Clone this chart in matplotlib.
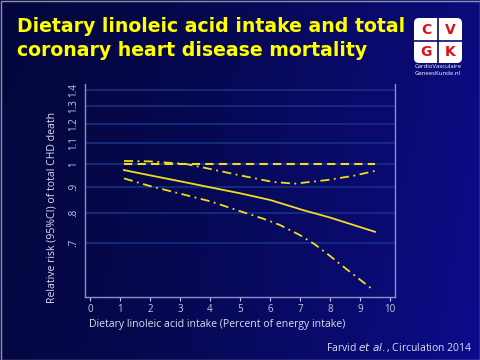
import numpy as np
import matplotlib
matplotlib.use("Agg")
import matplotlib.pyplot as plt
from matplotlib.patches import FancyBboxPatch, Rectangle
from matplotlib.ticker import FixedLocator, NullLocator

# ---- data ----
x_est = [1.13, 2.0, 3.0, 4.0, 5.0, 6.0, 7.1, 8.0, 9.5]
rr_est = [0.973, 0.950, 0.925, 0.900, 0.876, 0.850, 0.812, 0.785, 0.736]
x_low = [1.13, 2.0, 2.89, 4.0, 5.0, 5.8, 6.33, 7.0, 7.5, 8.0, 8.56, 9.44]
rr_low = [0.937, 0.905, 0.878, 0.845, 0.808, 0.780, 0.759, 0.725, 0.695, 0.660, 0.621, 0.566]
x_up = [1.13, 2.0, 2.6, 3.2, 4.0, 5.0, 6.1, 6.83, 7.9, 8.78, 9.5]
rr_up = [1.014, 1.012, 1.006, 1.0, 0.978, 0.950, 0.922, 0.915, 0.930, 0.948, 0.969]
x_ref = [1.13, 9.5]
rr_ref = [1.0, 1.0]

yticks = [0.7, 0.8, 0.9, 1.0, 1.1, 1.2, 1.3, 1.4]
ytick_labels = [".7", ".8", ".9", "1", "1.1", "1.2", "1.3", "1.4"]
xticks = list(range(0, 11))

title = "Dietary linoleic acid intake and total\ncoronary heart disease mortality"
xlabel = "Dietary linoleic acid intake (Percent of energy intake)"
ylabel = "Relative risk (95%CI) of total CHD death"

W, H = 480, 360
fig = plt.figure(figsize=(W / 100, H / 100), dpi=100)

# ---- background ----
bg = fig.add_axes([0, 0, 1, 1], zorder=-10)
gx = np.linspace(0, 1, 200)
gy = np.linspace(0, 1, 150)
GX, GY = np.meshgrid(gx, gy)
c_left = np.array([0.02, 0.03, 0.27])
c_right = np.array([0.05, 0.05, 0.55])
t = (GX ** 1.5)[..., None]
img = c_left * (1 - t) + c_right * t
img = img * (0.9 + 0.1 * GY[..., None])
bg.imshow(img, extent=[0, W, H, 0], aspect="auto", interpolation="bilinear")
bg.set_xlim(0, W)
bg.set_ylim(H, 0)
bg.axis("off")

# ---- main axes ----
ax = fig.add_axes([85 / W, (H - 297) / H, (395 - 85) / W, (297 - 84) / H])
ax.patch.set_alpha(0)
ax.set_yscale("log")
ax.set_xlim(-0.17, 10.17)
ax.set_ylim(0.548, 1.436)

for yv in yticks:
    ax.axhline(yv, color="#182f84", lw=1.2, zorder=1)

yellow = "#f0de1c"
ax.plot(x_est, rr_est, color=yellow, lw=1.3, zorder=3)
ax.plot(x_low, rr_low, color=yellow, lw=1.3, ls=(0, (5, 2.5, 1, 2.5)), zorder=3)
ax.plot(x_up, rr_up, color=yellow, lw=1.3, ls=(0, (5, 2.5, 1, 2.5)), zorder=3)
ax.plot(x_ref, rr_ref, color=yellow, lw=1.5, ls=(0, (4, 2.5)), zorder=3)

ax.yaxis.set_major_locator(FixedLocator(yticks))
ax.yaxis.set_minor_locator(NullLocator())
ax.set_yticklabels(ytick_labels, rotation=90, va="center")
ax.set_xticks(xticks)
tick_col = "#c8c8e4"
ax.tick_params(axis="x", colors=tick_col, labelsize=7, length=3, width=0.8, pad=2)
ax.tick_params(axis="y", colors=tick_col, labelsize=7, length=0, pad=4)
ax.tick_params(axis="y", which="minor", length=0)
for lab in ax.get_xticklabels() + ax.get_yticklabels():
    lab.set_family("Open Sans")

spine_col = "#8e8ec8"
for s in ["left", "bottom", "right"]:
    ax.spines[s].set_color(spine_col)
    ax.spines[s].set_linewidth(1.0)
ax.spines["top"].set_visible(False)

ax.set_xlabel(xlabel, color="#dcdcf0", fontsize=7.6, family="Open Sans")
ax.set_ylabel(ylabel, color="#dcdcf0", fontsize=7.6, family="Open Sans")
ax.xaxis.set_label_coords((217 - 85) / (395 - 85), (297 - 324) / (297 - 84))
ax.yaxis.set_label_coords((52 - 85) / (395 - 85), (297 - 207) / (297 - 84))
ax.xaxis.label.set_va("center")
ax.yaxis.label.set_va("center")

# ---- overlay texts ----
ov = fig.add_axes([0, 0, 1, 1], zorder=5)
ov.set_xlim(0, W)
ov.set_ylim(H, 0)
ov.axis("off")
ov.patch.set_alpha(0)

lines = title.split("\n")
ov.text(17, 27, lines[0], color="#ffff00", fontsize=13.6, fontweight="bold",
        family="DejaVu Sans", va="center", ha="left")
ov.text(17, 50, lines[1], color="#ffff00", fontsize=13.6, fontweight="bold",
        family="DejaVu Sans", va="center", ha="left")

# logo
ov.add_patch(FancyBboxPatch((414, 18), 48, 45, boxstyle="round,pad=0,rounding_size=5",
                            facecolor="white", edgecolor="none"))
ov.plot([438, 438], [18, 63], color="#0a0a70", lw=1.2)
ov.plot([414, 462], [40.5, 40.5], color="#0a0a70", lw=1.2)
for (lx, ly, ch) in [(426, 29.5, "C"), (450, 29.5, "V"), (426, 52, "G"), (450, 52, "K")]:
    ov.text(lx, ly, ch, color="#e0101a", fontsize=10, fontweight="bold",
            family="DejaVu Sans", ha="center", va="center")
ov.text(438, 67, "CardioVasculaire", color="white", fontsize=4.3, ha="center",
        va="center", family="Open Sans")
ov.text(438, 73.5, "GeneesKunde.nl", color="white", fontsize=4.3, ha="center",
        va="center", family="Open Sans")

# footnote
ov.text(472, 347, "Farvid $\\it{et\\ al.}$, Circulation 2014", color="#dcdcf0",
        fontsize=7.5, ha="right", va="center", family="Open Sans")

# frame
ov.add_patch(Rectangle((0.5, 0.5), W - 1, H - 1, fill=False, edgecolor="#9090a8", lw=1))

fig.savefig("out.png", dpi=100)
